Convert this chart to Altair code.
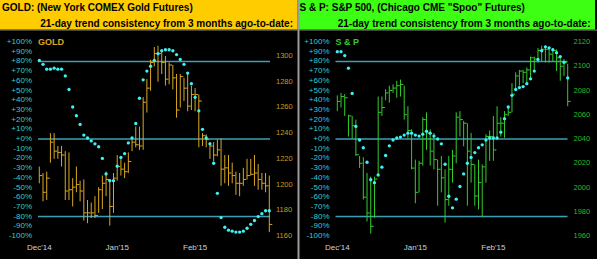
import altair as alt
import pandas as pd

# ---------------- data ----------------
idx = list(range(63))

gold_high = [1214, 1209, 1210, 1240, 1240, 1230, 1230, 1226, 1225, 1205, 1214, 1203, 1204, 1188, 1186, 1191,
             1198, 1207, 1210, 1204, 1209, 1223, 1222, 1217, 1225, 1235, 1245, 1245, 1268, 1282, 1297, 1307,
             1308, 1304, 1300, 1295, 1293, 1286, 1286, 1283, 1286, 1277, 1275, 1270, 1240, 1239, 1233, 1233,
             1235, 1236, 1223, 1223, 1217, 1210, 1209, 1213, 1220, 1220, 1223, 1216, 1209, 1209, 1207]
gold_low = [1201, 1187, 1188, 1217, 1220, 1220, 1214, 1188, 1188, 1183, 1194, 1187, 1172, 1170, 1174, 1174,
            1178, 1181, 1191, 1168, 1178, 1203, 1207, 1205, 1209, 1226, 1229, 1227, 1227, 1256, 1273, 1292,
            1280, 1286, 1277, 1278, 1274, 1252, 1260, 1265, 1257, 1258, 1257, 1229, 1230, 1229, 1220, 1218,
            1222, 1199, 1201, 1199, 1201, 1192, 1191, 1199, 1204, 1207, 1199, 1196, 1196, 1194, 1163]
gold_close = [1207, 1194, 1205, 1233, 1226, 1225, 1223, 1195, 1196, 1198, 1200, 1195, 1178, 1178, 1178, 1176,
              1196, 1201, 1204, 1183, 1205, 1214, 1212, 1210, 1218, 1233, 1231, 1230, 1264, 1275, 1295, 1302,
              1302, 1295, 1282, 1293, 1283, 1258, 1284, 1275, 1261, 1270, 1270, 1265, 1238, 1235, 1230, 1223,
              1227, 1212, 1213, 1209, 1207, 1201, 1201, 1204, 1207, 1208, 1209, 1204, 1201, 1199, 1169]
gold_trend = [81, 77, 72, 72, 73, 72, 72, 65, 51, 33, 24, 15, 4, 1, -2, -5, -8, -20, -36, -43,
              -43, -28, -19, -15, -4, 1, 16, 42, 61, 70, 75, 81, 88, 91, 92, 92, 91, 87, 82, 77,
              68, 57, 43, 29, 10, 1, -5, -25, -56, -81, -91, -94, -95, -96, -96, -95, -92, -88, -84, -80,
              -77, -74, -74]

sp_high = [2076, 2078, 2077, 2060, 2059, 2056, 2026, 2025, 2012, 2009, 2009, 2075, 2075, 2081, 2084, 2085,
           2088, 2089, 2084, 2067, 2048, 2023, 2022, 2058, 2062, 2048, 2045, 2023, 2026, 2015, 2026, 2031,
           2062, 2063, 2055, 2053, 2045, 2019, 2023, 2019, 2044, 2047, 2059, 2067, 2058, 2063, 2066, 2086,
           2095, 2097, 2097, 2099, 2108, 2108, 2115, 2117, 2117, 2115, 2115, 2114, 2108, 2106, 2102]
sp_low = [2063, 2066, 2059, 2042, 2040, 2026, 2016, 1990, 1972, 1962, 1975, 2009, 2059, 2072, 2070, 2078,
          2074, 2075, 2056, 2040, 2015, 1987, 1996, 2018, 2031, 2018, 2015, 1985, 1996, 1971, 1985, 2004,
          2020, 2042, 2034, 1985, 2004, 1985, 1982, 1976, 2004, 2022, 2022, 2040, 2042, 2041, 2059, 2062,
          2081, 2084, 2086, 2085, 2089, 2097, 2103, 2104, 2103, 2103, 2104, 2096, 2088, 2092, 2067]
sp_close = [2071, 2075, 2074, 2059, 2051, 2027, 2020, 1992, 1979, 1968, 2007, 2062, 2066, 2078, 2080, 2082,
            2084, 2085, 2060, 2047, 2016, 1996, 2020, 2056, 2045, 2030, 2023, 2015, 2008, 1990, 2015, 2026,
            2058, 2056, 2053, 2030, 2019, 1993, 2004, 2017, 2042, 2042, 2031, 2053, 2053, 2060, 2062, 2077,
            2092, 2096, 2095, 2097, 2107, 2106, 2113, 2114, 2114, 2110, 2113, 2107, 2100, 2103, 2071]
sp_trend = [90, 90, 86, 73, 47, 13, -1, -9, -24, -42, -45, -37, -29, -17, -7, -1, 1, 2, 4, 6,
            6, 4, 3, 5, 8, 6, 3, 0, -5, -26, -59, -71, -62, -49, -36, -25, -19, -14, -9, -6, -1,
            1, 1, 1, 7, 21, 33, 45, 51, 53, 54, 57, 62, 70, 82, 91, 95, 94, 92, 89, 85, 79, 63]

pct_ticks = list(range(100, -101, -10))
gold_price_ticks = [1160, 1180, 1200, 1220, 1240, 1260, 1280, 1300]
sp_price_ticks = [1960, 1980, 2000, 2020, 2040, 2060, 2080, 2100, 2120]
month_pos = [0, 21, 42]
month_labels = ["Dec'14", "Jan'15", "Feb'15"]
trend_levels = [80, 0, -80]

FONT = "Liberation Sans"
one = pd.DataFrame({"k": [0]})


def pct_label(v):
    return f"+{v}%" if v >= 0 else f"{v}%"


def panel(high, low, close, trend, price_ticks, price_dom, price_rng, xr, off,
          header_color, bar_color, price_color, title1, title2, tag):
    xs = alt.Scale(domain=[0, 62], range=xr, nice=False, zero=False)
    ps = alt.Scale(domain=[-100, 100], range=[236, 42], nice=False, zero=False)
    prs = alt.Scale(domain=price_dom, range=price_rng, nice=False, zero=False)

    bars = pd.DataFrame({"i": idx, "h": high, "l": low, "c": close, "t": trend})
    levels = pd.DataFrame({"lv": trend_levels})
    pctdf = pd.DataFrame({"v": pct_ticks, "lab": [pct_label(v) for v in pct_ticks]})
    pricedf = pd.DataFrame({"p": price_ticks, "lab": [str(p) for p in price_ticks]})
    monthdf = pd.DataFrame({"m": month_pos, "lab": month_labels})

    header = alt.Chart(one).mark_rect(color=header_color).encode(
        x=alt.value(off + 0), x2=alt.value(off + 297.5), y=alt.value(0), y2=alt.value(29.5))
    t1 = alt.Chart(one).mark_text(text=title1, font=FONT, fontSize=10, fontWeight="bold",
                                   align="left", baseline="middle", color="#000000").encode(
        x=alt.value(off + 2), y=alt.value(8))
    t2 = alt.Chart(one).mark_text(text=title2, font=FONT, fontSize=10, fontWeight="bold",
                                   align="right", baseline="middle", color="#000000").encode(
        x=alt.value(off + 293), y=alt.value(24))
    lines = alt.Chart(levels).mark_rule(color="#3E9FB2", strokeWidth=1.5).encode(
        y=alt.Y("lv:Q", scale=ps, axis=None),
        x=alt.value(off + 38), x2=alt.value(off + 270))
    hl = alt.Chart(bars).mark_rule(color=bar_color, strokeWidth=1).encode(
        x=alt.X("i:Q", scale=xs, axis=None),
        y=alt.Y("h:Q", scale=prs, axis=None), y2="l:Q")
    cl = alt.Chart(bars).mark_tick(color=bar_color, orient="horizontal", size=3,
                                   thickness=1, xOffset=1.5, opacity=1).encode(
        x=alt.X("i:Q", scale=xs, axis=None),
        y=alt.Y("c:Q", scale=prs, axis=None))
    dots = alt.Chart(bars).mark_circle(color="#3DF2F2", size=11, opacity=1).encode(
        x=alt.X("i:Q", scale=xs, axis=None),
        y=alt.Y("t:Q", scale=ps, axis=None))
    pl = alt.Chart(pctdf).mark_text(font=FONT, fontSize=8, align="right", baseline="middle",
                                    color="#33CCCC").encode(
        y=alt.Y("v:Q", scale=ps, axis=None), x=alt.value(off + 32), text="lab:N")
    prl = alt.Chart(pricedf).mark_text(font=FONT, fontSize=7.5, align="left", baseline="middle",
                                       color=price_color).encode(
        y=alt.Y("p:Q", scale=prs, axis=None), x=alt.value(off + 276), text="lab:N")
    ml = alt.Chart(monthdf).mark_text(font=FONT, fontSize=8, align="center", baseline="middle",
                                      color="#D0D0D0").encode(
        x=alt.X("m:Q", scale=xs, axis=None), y=alt.value(248), text="lab:N")
    tg = alt.Chart(one).mark_text(text=tag, font=FONT, fontSize=9, fontWeight="bold",
                                  align="left", baseline="middle", color=bar_color).encode(
        x=alt.value(off + 38), y=alt.value(42))
    return [header, t1, t2, lines, hl, cl, dots, pl, prl, ml, tg]


left = panel(gold_high, gold_low, gold_close, gold_trend, gold_price_ticks,
             [1160, 1300], [236, 56], [39.3, 269.3], 0,
             "#FFCC00", "#D9A820", "#C89B1E",
             "GOLD:  (New York COMEX Gold Futures)",
             "21-day trend consistency from 3 months ago-to-date:", "GOLD")
right = panel(sp_high, sp_low, sp_close, sp_trend, sp_price_ticks,
              [1960, 2120], [236, 42], [337.3, 567.7], 297.5,
              "#3CFF14", "#33CC2A", "#2DB82D",
              "S & P:  S&P 500, (Chicago CME \"Spoo\" Futures)",
              "21-day trend consistency from 3 months ago-to-date:", "S & P")

sep_v = alt.Chart(one).mark_rule(color="#9A9A9A", strokeWidth=2).encode(
    x=alt.value(298.5), y=alt.value(0), y2=alt.value(259))
sep_h = alt.Chart(one).mark_rule(color="#8A8A8A", strokeWidth=1).encode(
    x=alt.value(0), x2=alt.value(597), y=alt.value(30))

chart = alt.layer(*left, *right, sep_v, sep_h).resolve_scale(
    x="independent", y="independent"
).properties(
    width=597, height=259, background="#000000",
    autosize=alt.AutoSizeParams(type="none"), padding=0
).configure_view(stroke=None)

chart.save("out.html", embed_options={"renderer": "svg", "actions": False})
